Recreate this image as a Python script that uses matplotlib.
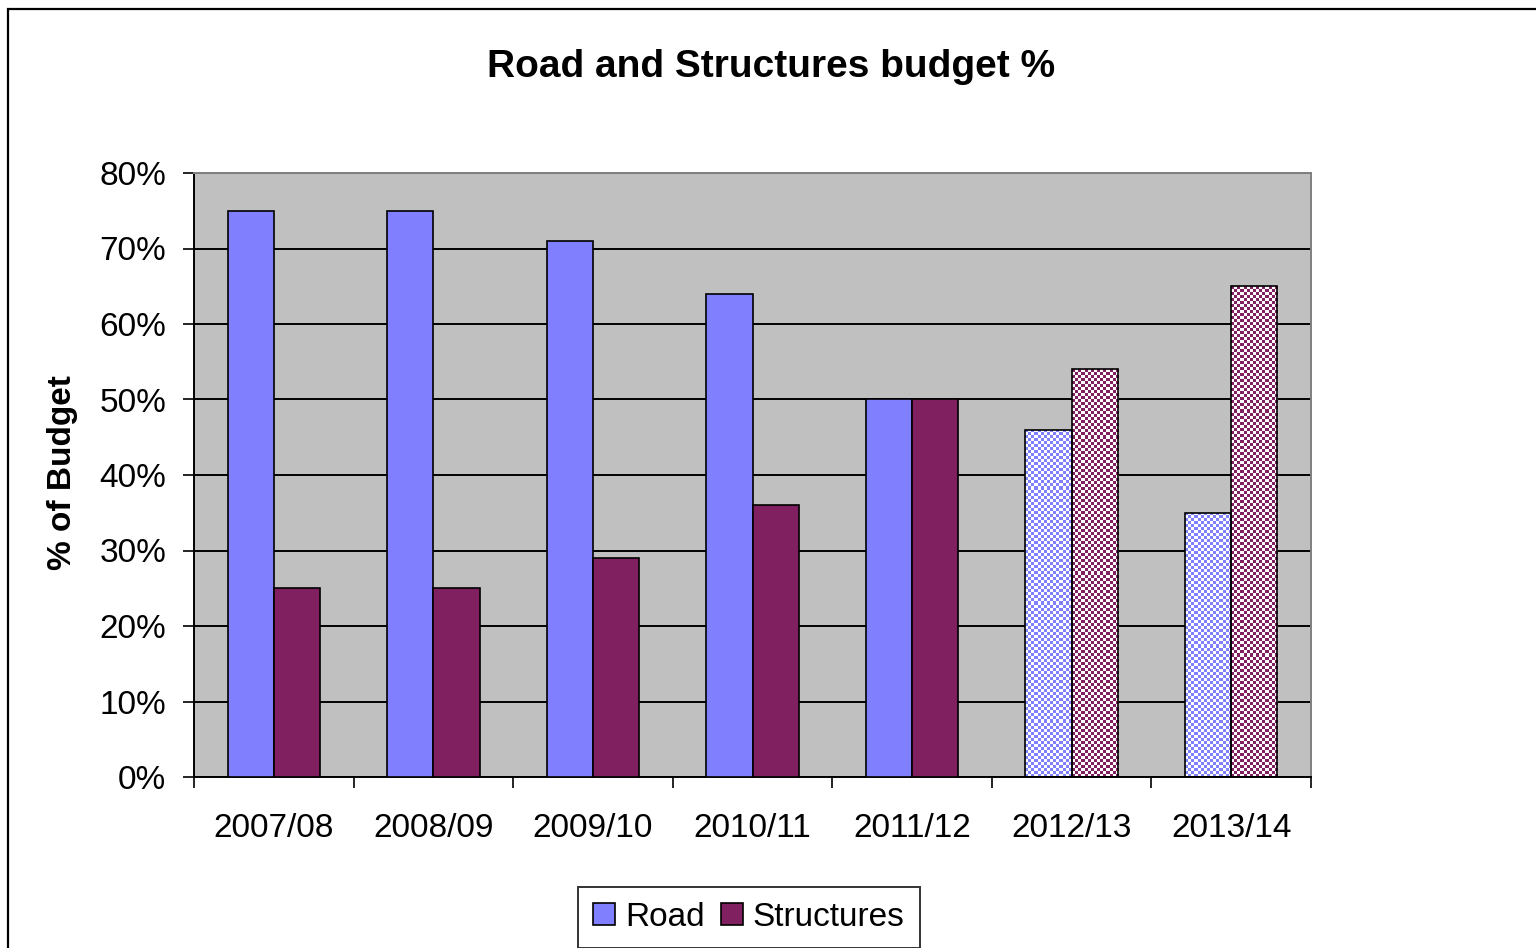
import numpy as np
import matplotlib
matplotlib.use("Agg")
import matplotlib.pyplot as plt
from matplotlib.patches import Rectangle

plt.rcParams['font.family'] = ['Liberation Sans', 'DejaVu Sans']

years = ["2007/08", "2008/09", "2009/10", "2010/11", "2011/12", "2012/13", "2013/14"]
road = [75, 75, 71, 64, 50, 46, 35]
structures = [25, 25, 29, 36, 50, 54, 65]
# forecast years drawn with a checker pattern
checkered = [False, False, False, False, False, True, True]

road_col = '#8080FF'
struct_col = '#802060'

fig = plt.figure(figsize=(15.36, 9.48), dpi=100)
ax = fig.add_axes([194/1536, 1-777/948, 1117/1536, 604/948])
ax.set_facecolor('#C0C0C0')

x = np.arange(len(years))
w = 0.29
ax.set_xlim(-0.5, len(years) - 0.5)
ax.set_ylim(0, 80)
ax.yaxis.grid(True, color='black', linewidth=1.4)
ax.set_axisbelow(True)

def checker(col, nx, ny):
    rgb = np.array(matplotlib.colors.to_rgb(col))
    ii, jj = np.meshgrid(np.arange(nx), np.arange(ny))
    m = ((ii + jj) % 2 == 0)[..., None]
    return np.where(m, rgb, np.ones(3))

px_x = 1117 / len(years)   # pixels per category
px_y = 604 / 80            # pixels per percent
cell = 3

for vals, off, col in [(road, -w/2, road_col), (structures, w/2, struct_col)]:
    for i, v in enumerate(vals):
        xl = x[i] + off - w/2
        if checkered[i]:
            nx = max(1, int(w * px_x / cell))
            ny = max(1, int(v * px_y / cell))
            im = ax.imshow(checker(col, nx, ny), extent=(xl, xl + w, 0, v),
                           aspect='auto', interpolation='nearest', zorder=2)
            rect = Rectangle((xl, 0), w, v, facecolor='none', edgecolor='black',
                             linewidth=1.2, zorder=3)
            ax.add_patch(rect)
            im.set_clip_path(rect)
        else:
            ax.bar(xl, v, w, align='edge', color=col, edgecolor='black',
                   linewidth=1.2, zorder=3)

ax.set_xlim(-0.5, len(years) - 0.5)
ax.set_ylim(0, 80)

ax.set_yticks(range(0, 81, 10))
ax.set_yticklabels([f"{t}%" for t in range(0, 81, 10)])
ax.set_xticks(np.arange(-0.5, len(years)), minor=False)
ax.set_xticklabels([])
ax.set_xticks(x, minor=True)
ax.set_xticklabels(years, minor=True)
ax.tick_params(axis='x', which='major', direction='out', length=8, width=1.2)
ax.tick_params(axis='x', which='minor', length=0, pad=26, labelsize=24)
ax.tick_params(axis='y', direction='out', length=8, width=1.2, pad=12, labelsize=24)

for s in ['left', 'bottom']:
    ax.spines[s].set_color('black')
    ax.spines[s].set_linewidth(1.4)
for s in ['top', 'right']:
    ax.spines[s].set_color('#808080')
    ax.spines[s].set_linewidth(1.4)

fig.text(771/1536, 1-67/948, "Road and Structures budget %", ha='center', va='center',
         fontsize=28, fontweight='bold')
fig.text(62/1536, 1-473/948, "% of Budget", rotation=90, ha='center', va='center',
         fontsize=24, fontweight='bold')

h1 = Rectangle((0, 0), 1, 1, facecolor=road_col, edgecolor='black', linewidth=1.2)
h2 = Rectangle((0, 0), 1, 1, facecolor=struct_col, edgecolor='black', linewidth=1.2)
leg = fig.legend([h1, h2], ["Road", "Structures"], loc='upper center',
                 bbox_to_anchor=(749/1536, 1-887/948), ncol=2, fontsize=24,
                 frameon=True, fancybox=False, edgecolor='black', handlelength=0.65,
                 handleheight=0.65, handletextpad=0.3, columnspacing=0.5,
                 borderpad=0.45, borderaxespad=0)
leg.get_frame().set_linewidth(1.4)

fig.patches.append(Rectangle((8/1536, -0.2), 1.2, 1 - 9/948 + 0.2,
                             transform=fig.transFigure, facecolor='none',
                             edgecolor='black', linewidth=1.6))

fig.savefig("out.png", dpi=100)
